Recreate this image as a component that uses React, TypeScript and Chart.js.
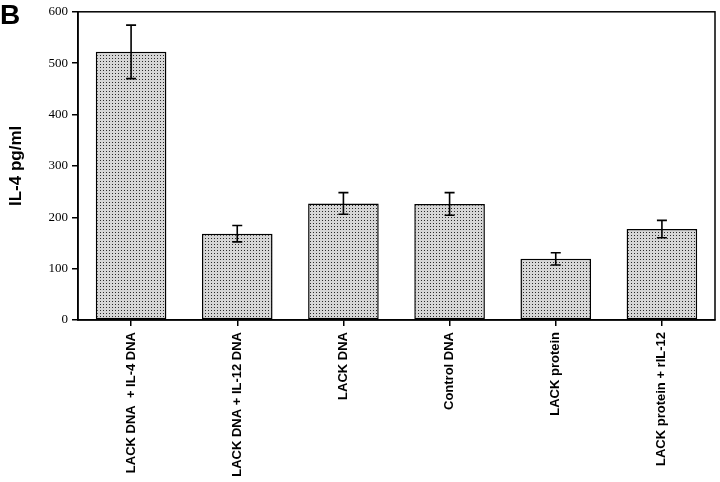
import React, { useEffect, useRef } from "react";
import { Chart, registerables } from "chart.js";

Chart.register(...registerables);

const categories = [
  "LACK DNA  + IL-4 DNA",
  "LACK DNA + IL-12 DNA",
  "LACK DNA",
  "Control DNA",
  "LACK protein",
  "LACK protein + rIL-12",
];
const values = [522, 168, 227, 226, 119, 177];
const errors = [52, 16, 21, 22, 12, 17];
const yTicks = [0, 100, 200, 300, 400, 500, 600];
const yTitle = "IL-4 pg/ml";
const panelLabel = "B";

function makePattern(): CanvasPattern | string {
  const c = document.createElement("canvas");
  c.width = 3;
  c.height = 3;
  const ctx = c.getContext("2d");
  if (!ctx) return "#ccc";
  ctx.fillStyle = "#d6d6d6";
  ctx.fillRect(0, 0, 3, 3);
  ctx.fillStyle = "#2a2a2a";
  ctx.fillRect(1, 1, 1, 1);
  return ctx.createPattern(c, "repeat") || "#ccc";
}

const extrasPlugin = {
  id: "extras",
  afterDatasetsDraw(chart: any) {
    const ctx = chart.ctx;
    const y = chart.scales.y;
    const meta = chart.getDatasetMeta(0);
    ctx.save();
    ctx.strokeStyle = "#000";
    ctx.lineWidth = 1.6;
    meta.data.forEach((bar: any, i: number) => {
      const x = bar.x;
      const hi = y.getPixelForValue(values[i] + errors[i]);
      const lo = y.getPixelForValue(values[i] - errors[i]);
      ctx.beginPath();
      ctx.moveTo(x, hi);
      ctx.lineTo(x, lo);
      ctx.moveTo(x - 5, hi);
      ctx.lineTo(x + 5, hi);
      ctx.moveTo(x - 5, lo);
      ctx.lineTo(x + 5, lo);
      ctx.stroke();
    });
    const a = chart.chartArea;
    ctx.lineWidth = 1.5;
    ctx.strokeRect(a.left, a.top, a.right - a.left, a.bottom - a.top);
    ctx.fillStyle = "#000";
    ctx.font = "bold 28px 'Liberation Sans', Arial, sans-serif";
    ctx.textBaseline = "alphabetic";
    ctx.textAlign = "left";
    ctx.fillText(panelLabel, 0, 24);
    ctx.restore();
  },
};

export default function App() {
  const ref = useRef<HTMLCanvasElement | null>(null);
  useEffect(() => {
    if (!ref.current) return;
    const chart = new Chart(ref.current, {
      type: "bar",
      data: {
        labels: categories,
        datasets: [
          {
            data: values,
            backgroundColor: makePattern() as any,
            borderColor: "#000",
            borderWidth: 1.5,
            borderSkipped: false,
            categoryPercentage: 1,
            barPercentage: 0.665,
          },
        ],
      },
      options: {
        animation: false,
        responsive: false,
        maintainAspectRatio: false,
        layout: { padding: { top: 4, right: 5, left: 0, bottom: 0 } },
        plugins: { legend: { display: false }, tooltip: { enabled: false } },
        scales: {
          x: {
            offset: true,
            grid: {
              offset: false,
              drawOnChartArea: false,
              drawTicks: true,
              tickLength: 6,
              color: "#000",
              lineWidth: 1.5,
            },
            border: { display: true, color: "#000", width: 1.5 },
            ticks: {
              minRotation: 90,
              maxRotation: 90,
              autoSkip: false,
              padding: 6,
              color: "#000",
              font: { family: "'Liberation Sans', Arial, sans-serif", size: 13, weight: "bold" },
            },
            afterFit(scale: any) {
              scale.height = 162;
            },
          },
          y: {
            min: 0,
            max: 600,
            afterBuildTicks(scale: any) {
              scale.ticks = yTicks.map((v) => ({ value: v }));
            },
            grid: {
              drawOnChartArea: false,
              drawTicks: true,
              tickLength: 6,
              color: "#000",
              lineWidth: 1.5,
            },
            border: { display: true, color: "#000", width: 1.5 },
            ticks: {
              padding: 4,
              color: "#000",
              font: { family: "'Liberation Serif', serif", size: 13 },
            },
            title: {
              display: true,
              text: yTitle,
              color: "#000",
              padding: { top: 6, bottom: 0 },
              font: { family: "'Liberation Sans', Arial, sans-serif", size: 17, weight: "bold" },
            },
            afterFit(scale: any) {
              scale.width = 78;
            },
          },
        },
      },
      plugins: [extrasPlugin],
    });
    return () => chart.destroy();
  }, []);
  return (
    <div style={{ position: "fixed", left: 0, top: 0, width: 720, height: 482, background: "#fff" }}>
      <canvas ref={ref} width={720} height={482} style={{ width: 720, height: 482, display: "block" }} />
    </div>
  );
}
